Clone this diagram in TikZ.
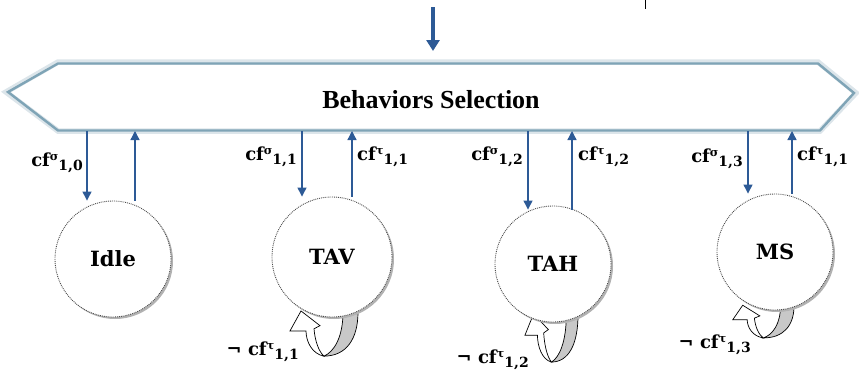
\documentclass[tikz,border=0pt]{standalone}
\usepackage{fontspec}
\setmainfont{Liberation Serif}
\newfontfamily\labfont{DejaVu Serif}
\usetikzlibrary{arrows.meta,shadows,calc}
\definecolor{arrblue}{HTML}{2D5A96}
\definecolor{hexblue}{HTML}{7FA4B6}
\definecolor{hexlight}{HTML}{DCE5EA}
\definecolor{loopgray}{HTML}{C8C8C8}
\newcommand{\cfl}[2]{{\labfont\bfseries cf\raisebox{0.7ex}{\fontsize{11.5}{11.5}\selectfont #1}\raisebox{-0.45ex}{\fontsize{14}{14}\selectfont #2}}}
\begin{document}
\begin{tikzpicture}[x=1pt,y=-1pt,
  arr/.style={draw=arrblue,line width=1.3pt,-{Triangle[width=9pt,length=9pt]}},
  state/.style={circle,draw=gray!60!black,densely dotted,line width=0.9pt,fill=white,
     minimum size=#1,inner sep=0pt,font=\labfont\fontsize{21}{21}\selectfont\bfseries,
     drop shadow={shadow xshift=2pt,shadow yshift=-2pt,fill=gray!60,opacity=1}},
  lab/.style={inner sep=0pt,font=\fontsize{18}{18}\selectfont},
  loopgrayfill/.style={draw=black,line width=0.7pt,fill=loopgray},
  loopwhite/.style={draw=black,line width=0.7pt,fill=white}]
\useasboundingbox (0,0) rectangle (859,372);
% tiny tick top right
\draw[line width=0.6pt,black] (645,0) -- (645,9);
% hexagon
\path (58,62) coordinate (h1) -- (818,62) coordinate (h2) -- (856,93) coordinate (h3)
  -- (820,131) coordinate (h4) -- (58,131) coordinate (h5) -- (6,92) coordinate (h6);
\draw[hexlight,line width=5.5pt,line join=miter] (h1) -- (h2) -- (h3) -- (h4) -- (h5) -- (h6) -- cycle;
\draw[hexblue,line width=2.4pt,line join=miter] ($(h1)+(0,1.5)$) -- ($(h2)+(0,1.5)$) -- ($(h3)+(-2,0)$) -- ($(h4)+(0,-0.5)$) -- ($(h5)+(0,-0.5)$) -- ($(h6)+(2,0)$) -- cycle;
\node[inner sep=0pt,font=\fontsize{26}{26}\selectfont\bfseries] (sel) at (431,100) {Behaviors Selection};
% top input arrow
\coordinate (in) at (433,7);
\coordinate (intip) at (433,51);
\draw[draw=arrblue,line width=3.5pt,-{Triangle[width=13pt,length=11pt]}] (in) -- (intip);
% self loops (drawn before circles)
\newcommand{\selfloop}[4]{%
 \begin{scope}[shift={(#1,#2)},xscale=#3,yscale=#4]
  \draw[loopgrayfill] (0,0) -- (-15,0) .. controls (-15,24) and (-24,38) .. (-34,42)
     .. controls (-12,42) and (0,26) .. (0,0) -- cycle;
  \draw[loopwhite] (-34,42) .. controls (-46,40) and (-52,28) .. (-52,18) -- (-68,18) -- (-57,-1)
     -- (-38,13) -- (-44,16) .. controls (-43,28) and (-39,38) .. (-34,42) -- cycle;
 \end{scope}}
\selfloop{358}{312}{1}{1.05}
\selfloop{578}{315}{0.78}{1.12}
\selfloop{794}{306}{0.9}{0.76}
% states
\node[state=116pt] (idle) at (113,259) {Idle};
\node[state=120pt] (tav) at (332,257) {TAV};
\node[state=116pt] (tah) at (553,264) {TAH};
\node[state=116pt] (ms) at (775,252) {MS};
% connector anchors on the selection box
\coordinate (i0) at (87,131);  \coordinate (o0) at (135,131);
\coordinate (i1) at (302,131); \coordinate (o1) at (352,131);
\coordinate (i2) at (528,131); \coordinate (o2) at (572,131);
\coordinate (i3) at (748,131); \coordinate (o3) at (792,131);
\draw[arr] (i0) -- (i0 |- idle.north);
\draw[arr] (o0 |- idle.north) -- (o0);
\draw[arr] (i1) -- (i1 |- tav.north);
\draw[arr] (o1 |- tav.north) -- (o1);
\draw[arr] (i2) -- ($(i2 |- tah.north)+(0,4)$);
\draw[arr] ($(o2 |- tah.north)+(0,4)$) -- (o2);
\draw[arr] (i3) -- (i3 |- ms.north);
\draw[arr] (o3 |- ms.north) -- (o3);
% labels
\node[lab,anchor=east] (l0) at (83,163) {\cfl{σ}{1,0}};
\node[lab,anchor=east] (l1) at (297,157) {\cfl{σ}{1,1}};
\node[lab,anchor=west] (l2) at (357,157) {\cfl{τ}{1,1}};
\node[lab,anchor=east] (l3) at (523,157) {\cfl{σ}{1,2}};
\node[lab,anchor=west] (l4) at (578,157) {\cfl{τ}{1,2}};
\node[lab,anchor=east] (l5) at (743,159) {\cfl{σ}{1,3}};
\node[lab,anchor=west] (l6) at (797,157) {\cfl{τ}{1,1}};
\node[lab,anchor=east] (n1) at (299,352) {{\labfont\bfseries ¬ }\cfl{τ}{1,1}};
\node[lab,anchor=east] (n2) at (529,360) {{\labfont\bfseries ¬ }\cfl{τ}{1,2}};
\node[lab,anchor=east] (n3) at (751,345) {{\labfont\bfseries ¬ }\cfl{τ}{1,3}};
\end{tikzpicture}
\end{document}
